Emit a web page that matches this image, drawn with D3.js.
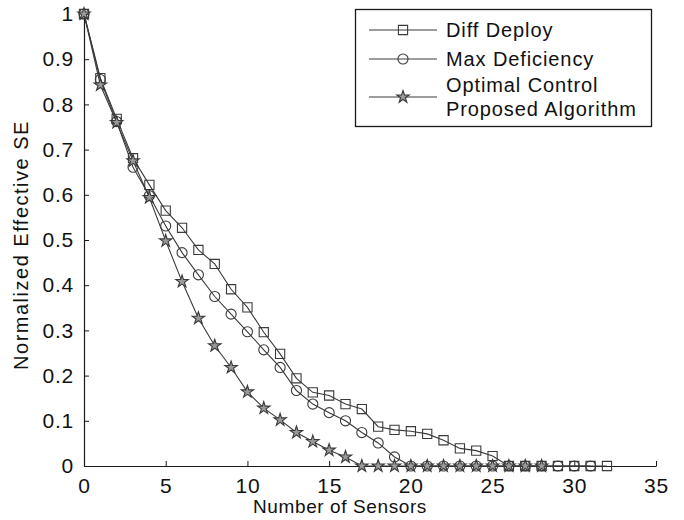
<!DOCTYPE html>
<html>
<head>
<meta charset="utf-8">
<script src="https://cdn.jsdelivr.net/npm/d3@7/dist/d3.min.js"></script>
<style>
  html, body { margin: 0; padding: 0; background: #fff; }
  svg { display: block; }
  text { font-family: "Liberation Sans", Arial, Helvetica, sans-serif; fill: #111; }
</style>
</head>
<body>
<svg id="chart" width="684" height="520"></svg>
<script>
// Normalized effective SE vs. number of deployed sensors
const diffDeploy = [1.0, 0.858, 0.768, 0.681, 0.622, 0.565, 0.527, 0.478, 0.447, 0.391,
  0.351, 0.296, 0.248, 0.194, 0.163, 0.156, 0.137, 0.126, 0.087, 0.080,
  0.077, 0.071, 0.057, 0.039, 0.034, 0.022, 0, 0, 0, 0, 0, 0, 0];
const maxDeficiency = [1.0, 0.855, 0.762, 0.661, 0.598, 0.531, 0.472, 0.423, 0.375, 0.336,
  0.297, 0.257, 0.218, 0.167, 0.137, 0.118, 0.100, 0.074, 0.051, 0.020,
  0, 0, 0, 0, 0, 0, 0, 0, 0, 0, 0, 0];
const optimalControl = [1.0, 0.843, 0.760, 0.675, 0.594, 0.498, 0.408, 0.327, 0.266, 0.218,
  0.164, 0.128, 0.102, 0.074, 0.054, 0.035, 0.020, 0, 0, 0,
  0, 0, 0, 0, 0, 0, 0, 0, 0];
const seriesNames = ["Diff Deploy", "Max Deficiency", ["Optimal Control", "Proposed Algorithm"]];
const xTicks = [0, 5, 10, 15, 20, 25, 30, 35];
const yTicks = [0, 0.1, 0.2, 0.3, 0.4, 0.5, 0.6, 0.7, 0.8, 0.9, 1];

const svg = d3.select("#chart");
const plotLeft = 84, plotRight = 656, plotTop = 14, plotBottom = 466;

const x = d3.scaleLinear().domain([0, 35]).range([plotLeft, plotRight]);
const y = d3.scaleLinear().domain([0, 1]).range([plotBottom, plotTop]);

const ink = "#1a1a1a", lineCol = "#3a3a3a";

// axes: ticks drawn inward
const xAxis = svg.append("g").attr("transform", `translate(0,${plotBottom})`)
  .call(d3.axisBottom(x).tickValues(xTicks).tickSizeInner(-5).tickSizeOuter(0).tickPadding(12)
    .tickFormat(d3.format("d")));
const yAxis = svg.append("g").attr("transform", `translate(${plotLeft},0)`)
  .call(d3.axisLeft(y).tickValues(yTicks).tickSizeInner(-5).tickSizeOuter(0).tickPadding(10)
    .tickFormat(d => d === 0 || d === 1 ? String(d) : d3.format(".1f")(d)));
[xAxis, yAxis].forEach(g => {
  g.select(".domain").attr("stroke", ink).attr("stroke-width", 1.2);
  g.selectAll(".tick line").attr("stroke", ink);
  g.selectAll(".tick text").attr("fill", ink).style("font-size", "21px")
    .style("font-family", "'Liberation Sans', Arial, sans-serif").attr("letter-spacing", "0.8px");
});
xAxis.selectAll(".tick text").attr("dy", "0.71em");

svg.append("text").attr("x", (plotLeft + plotRight) / 2 - 30).attr("y", 513)
  .attr("text-anchor", "middle").style("font-size", "19px").attr("letter-spacing", "0.6px")
  .text("Number of Sensors");
svg.append("text").attr("transform", `translate(28,${(plotTop + plotBottom) / 2 + 5}) rotate(-90)`)
  .attr("text-anchor", "middle").style("font-size", "20px").attr("letter-spacing", "1.5px")
  .text("Normalized Effective SE");

const symbols = [
  d3.symbol().type(d3.symbolSquare).size(85),
  d3.symbol().type(d3.symbolCircle).size(80),
  d3.symbol().type(d3.symbolStar).size(48)
];
const allSeries = [diffDeploy, maxDeficiency, optimalControl];

const line = d3.line().x((d, i) => x(i)).y(d => y(d));

allSeries.forEach((vals, k) => {
  const g = svg.append("g");
  g.append("path").datum(vals).attr("d", line)
    .attr("fill", "none").attr("stroke", lineCol).attr("stroke-width", 1.1);
  g.selectAll("path.m").data(vals).join("path").attr("class", "m")
    .attr("transform", (d, i) => `translate(${x(i)},${y(d)})`)
    .attr("d", symbols[k]())
    .attr("fill", k === 2 ? "#9a9a9a" : "none")
    .attr("stroke", lineCol).attr("stroke-width", 1.1);
});

// legend
const lg = svg.append("g");
lg.append("rect").attr("x", 355.5).attr("y", 9.5).attr("width", 296).attr("height", 117)
  .attr("fill", "#fff").attr("stroke", ink).attr("stroke-width", 1.3);
const rowsY = [30, 59, 97];
seriesNames.forEach((name, k) => {
  const yy = rowsY[k];
  lg.append("line").attr("x1", 369).attr("x2", 437).attr("y1", yy).attr("y2", yy)
    .attr("stroke", lineCol).attr("stroke-width", 1.1);
  lg.append("path").attr("transform", `translate(403,${yy})`).attr("d", symbols[k]())
    .attr("fill", k === 2 ? "#9a9a9a" : "none").attr("stroke", lineCol).attr("stroke-width", 1.1);
  const lines = Array.isArray(name) ? name : [name];
  lines.forEach((t, j) => {
    const ty = lines.length === 1 ? yy : yy - 12 + j * 24;
    lg.append("text").attr("x", 446).attr("y", ty).attr("dy", "0.36em")
      .style("font-size", "20px").attr("letter-spacing", "0.9px").text(t);
  });
});
</script>
</body>
</html>
